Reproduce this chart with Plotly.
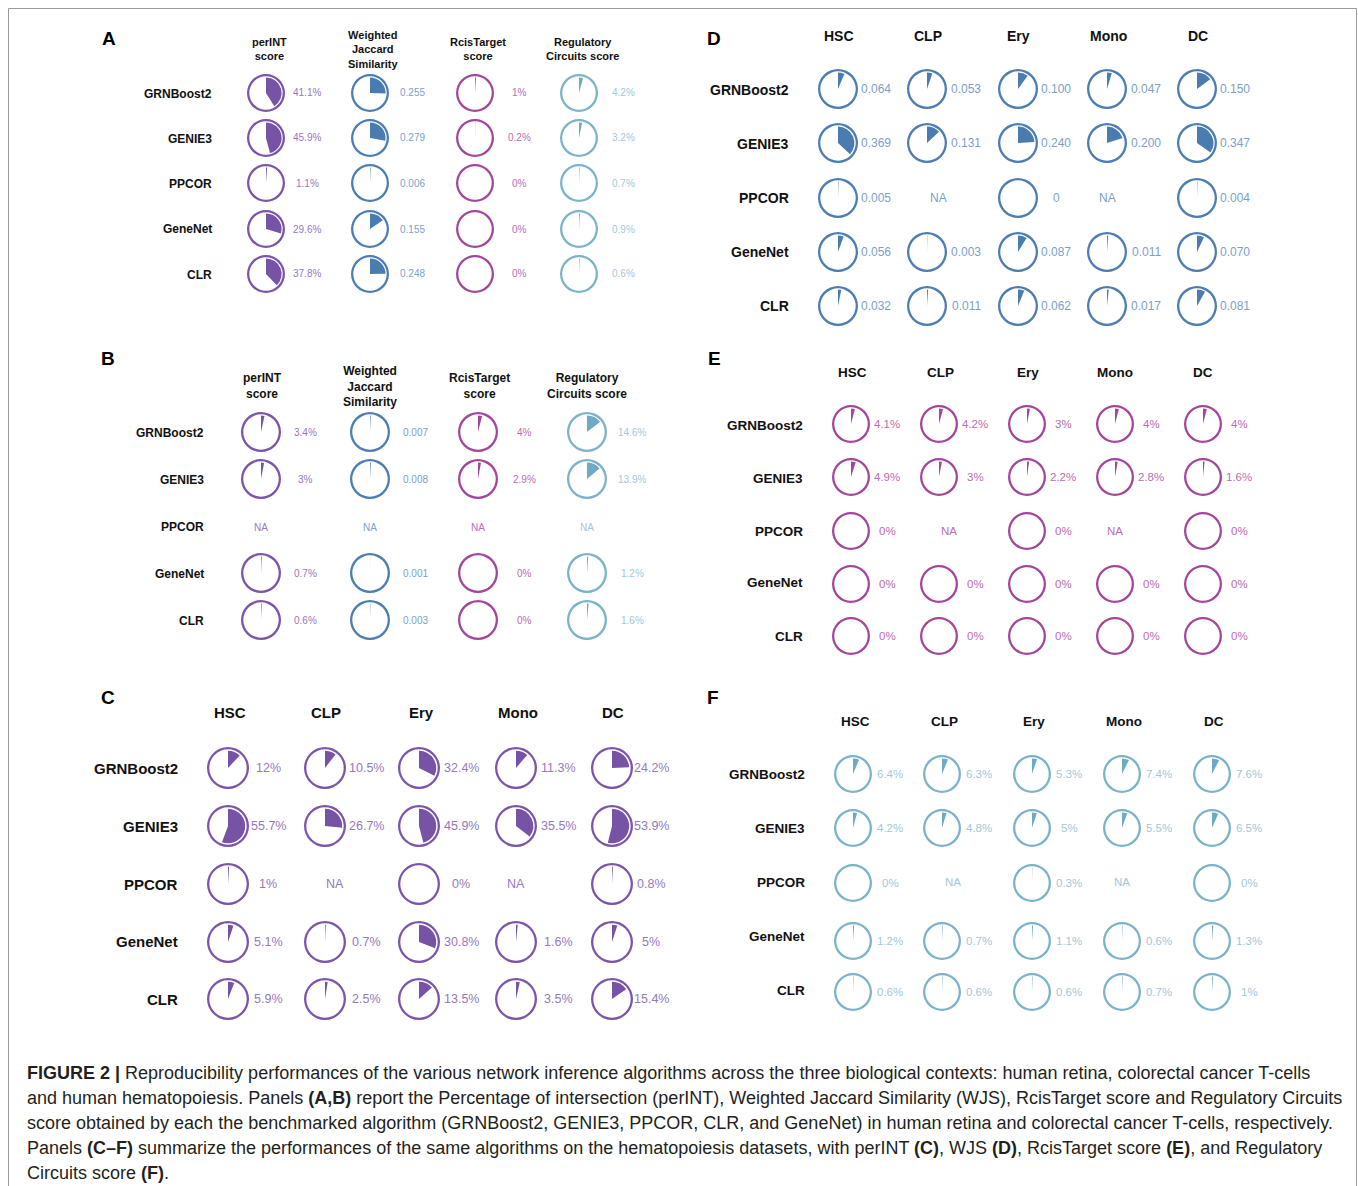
import plotly.graph_objects as go

W, H = 1358, 1186

# ---------------- data ----------------
methods = ["GRNBoost2", "GENIE3", "PPCOR", "GeneNet", "CLR"]
ab_metrics = ["perINT<br>score", "Weighted<br>Jaccard<br>Similarity",
              "RcisTarget<br>score", "Regulatory<br>Circuits score"]
cell_types = ["HSC", "CLP", "Ery", "Mono", "DC"]

# Panel A: human retina (rows = methods)
a_perint = [41.1, 45.9, 1.1, 29.6, 37.8]
a_wjs = [0.255, 0.279, 0.006, 0.155, 0.248]
a_rcis = [1, 0.2, 0, 0, 0]
a_regcirc = [4.2, 3.2, 0.7, 0.9, 0.6]

# Panel B: colorectal cancer T-cells (None = NA)
b_perint = [3.4, 3, None, 0.7, 0.6]
b_wjs = [0.007, 0.008, None, 0.001, 0.003]
b_rcis = [4, 2.9, None, 0, 0]
b_regcirc = [14.6, 13.9, None, 1.2, 1.6]

# Panels C-F: hematopoiesis (rows = methods, columns = cell types)
c_perint = [
    [12, 10.5, 32.4, 11.3, 24.2],
    [55.7, 26.7, 45.9, 35.5, 53.9],
    [1, None, 0, None, 0.8],
    [5.1, 0.7, 30.8, 1.6, 5],
    [5.9, 2.5, 13.5, 3.5, 15.4],
]
d_wjs = [
    [0.064, 0.053, 0.100, 0.047, 0.150],
    [0.369, 0.131, 0.240, 0.200, 0.347],
    [0.005, None, 0, None, 0.004],
    [0.056, 0.003, 0.087, 0.011, 0.070],
    [0.032, 0.011, 0.062, 0.017, 0.081],
]
e_rcis = [
    [4.1, 4.2, 3, 4, 4],
    [4.9, 3, 2.2, 2.8, 1.6],
    [0, None, 0, None, 0],
    [0, 0, 0, 0, 0],
    [0, 0, 0, 0, 0],
]
f_regcirc = [
    [6.4, 6.3, 5.3, 7.4, 7.6],
    [4.2, 4.8, 5, 5.5, 6.5],
    [0, None, 0.3, None, 0],
    [1.2, 0.7, 1.1, 0.6, 1.3],
    [0.6, 0.6, 0.6, 0.7, 1],
]

# ---------------- styles ----------------
FONT = "Liberation Sans, Arial, Helvetica, sans-serif"
STYLE = {
    "perint": dict(ring="#7b55ab", wedge="#7753a6", text="#9479c0", kind="pct"),
    "wjs": dict(ring="#4d7db2", wedge="#4b7cb0", text="#7c9fc8", kind="frac"),
    "rcis": dict(ring="#a3479b", wedge="#a3479b", text="#bb6db2", kind="pct"),
    "regcirc": dict(ring="#7cb3ca", wedge="#6eaac3", text="#a3c7d8", kind="pct"),
}


def X(px):
    return px / W


def Y(py):
    return 1 - py / H


def fmt(v, kind):
    if kind == "pct":
        return f"{v:g}%"
    return "0" if v == 0 else f"{v:.3f}"


fig = go.Figure()
ann = []


def text(x, y, s, size, color="#111", bold=False, xanchor="center"):
    ann.append(dict(x=X(x), y=Y(y), xref="paper", yref="paper", text=f"<b>{s}</b>" if bold else s,
                    showarrow=False, xanchor=xanchor, yanchor="middle",
                    font=dict(family=FONT, size=size, color=color)))


def glyph(cx, cy, r, value, kind, st):
    """Ring outline plus an inner wedge sweeping clockwise from 12 o'clock."""
    frac = value / 100 if kind == "pct" else value
    fig.add_trace(go.Pie(
        values=[1], marker=dict(colors=[st["ring"]], line=dict(width=0)),
        hole=1 - 2.3 / r, sort=False, textinfo="none", hoverinfo="skip", showlegend=False,
        domain=dict(x=[X(cx - r), X(cx + r)], y=[Y(cy + r), Y(cy - r)])))
    ri = r * 0.82
    fig.add_trace(go.Pie(
        values=[frac, 1 - frac], marker=dict(colors=[st["wedge"], "rgba(0,0,0,0)"], line=dict(width=0)),
        sort=False, direction="clockwise", rotation=0, textinfo="none", hoverinfo="skip",
        showlegend=False,
        domain=dict(x=[X(cx - ri), X(cx + ri)], y=[Y(cy + ri), Y(cy - ri)])))


def panel(letter, geo, headers, grid, styles, fs):
    lx, ly = geo["letter"]
    text(lx, ly, letter, 19, "#000", True)
    for hx, h in zip(geo["head_x"], headers):
        text(hx, geo["head_y"], h, fs["head"], "#111", True)
    for ry, m in zip(geo["label_y"], methods):
        text(geo["label_x"], ry, m, fs["label"], "#111", True, xanchor="right")
    for i, cy in enumerate(geo["rows_y"]):
        for j, cx in enumerate(geo["cols_x"]):
            st = styles[j]
            v = grid[i][j]
            if v is None:
                text(cx + geo["na_dx"][j], geo["label_y"][i], "NA", fs["val"], st["text"])
                continue
            glyph(cx, cy, geo["r"], v, st["kind"], st)
            text(geo["val_x"][j], cy, fmt(v, st["kind"]), fs["val"], st["text"])


# Panels A and B: metrics as columns
ab_styles = [STYLE["perint"], STYLE["wjs"], STYLE["rcis"], STYLE["regcirc"]]
grid_a = [list(t) for t in zip(a_perint, a_wjs, a_rcis, a_regcirc)]
grid_b = [list(t) for t in zip(b_perint, b_wjs, b_rcis, b_regcirc)]

panel("A", dict(letter=(109, 39), head_x=[269, 373, 478, 582], head_y=49,
                label_x=214, label_y=[94, 139, 184, 229, 275],
                rows_y=[93, 138, 183, 229, 274], cols_x=[266, 370, 475, 579],
                r=19, val_x=[307, 413, 519, 623], na_dx=[0, 0, 0, 0]),
      ab_metrics, grid_a, ab_styles, dict(head=11, label=12, val=10))

panel("B", dict(letter=(108, 358), head_x=[262, 370, 479, 587], head_y=386,
                label_x=206, label_y=[433, 480, 527, 574, 621],
                rows_y=[432, 479, 527, 573, 620], cols_x=[261, 370, 478, 587],
                r=20, val_x=[305, 415, 524, 632], na_dx=[0, 0, 0, 0]),
      ab_metrics, grid_b, ab_styles, dict(head=12, label=12, val=10))

# Panels C-F: cell types as columns
panel("C", dict(letter=(108, 697), head_x=[230, 326, 421, 518, 613], head_y=712,
                label_x=180, label_y=[769, 826, 884, 941, 999],
                rows_y=[768, 826, 884, 942, 999], cols_x=[228, 325, 419, 516, 612],
                r=21, val_x=[268, 366, 461, 558, 651], na_dx=[0, 10, 0, 0, 0]),
      cell_types, c_perint, [STYLE["perint"]] * 5, dict(head=15, label=15, val=12.5))

panel("D", dict(letter=(714, 39), head_x=[839, 928, 1018, 1108, 1198], head_y=36,
                label_x=791, label_y=[90, 144, 198, 252, 306],
                rows_y=[89, 143, 198, 252, 306], cols_x=[838, 927, 1018, 1107, 1197],
                r=20, val_x=[876, 966, 1056, 1146, 1235], na_dx=[0, 11, 0, 0, 0]),
      cell_types, d_wjs, [STYLE["wjs"]] * 5, dict(head=14, label=14, val=12))

panel("E", dict(letter=(714, 358), head_x=[852, 940, 1028, 1115, 1203], head_y=372,
                label_x=805, label_y=[425, 478, 531, 583, 636],
                rows_y=[424, 477, 531, 584, 636], cols_x=[851, 939, 1027, 1115, 1203],
                r=19, val_x=[887, 975, 1063, 1151, 1239], na_dx=[0, 10, 0, 0, 0]),
      cell_types, e_rcis, [STYLE["rcis"]] * 5, dict(head=13.5, label=13.5, val=11.5))

panel("F", dict(letter=(713, 697), head_x=[855, 944, 1034, 1124, 1214], head_y=721,
                label_x=807, label_y=[774, 828, 882, 936, 990],
                rows_y=[774, 828, 883, 941, 992], cols_x=[853, 942, 1032, 1122, 1212],
                r=19, val_x=[890, 979, 1069, 1159, 1249], na_dx=[0, 11, 0, 0, 0]),
      cell_types, f_regcirc, [STYLE["regcirc"]] * 5, dict(head=13.5, label=13.5, val=11.5))

# ---------------- caption ----------------
caption_lines = [
    "<b>FIGURE 2 |</b> Reproducibility performances of the various network inference algorithms across the three biological contexts: human retina, colorectal cancer T-cells",
    "and human hematopoiesis. Panels <b>(A,B)</b> report the Percentage of intersection (perINT), Weighted Jaccard Similarity (WJS), RcisTarget score and Regulatory Circuits",
    "score obtained by each the benchmarked algorithm (GRNBoost2, GENIE3, PPCOR, CLR, and GeneNet) in human retina and colorectal cancer T-cells, respectively.",
    "Panels <b>(C\u2013F)</b> summarize the performances of the same algorithms on the hematopoiesis datasets, with perINT <b>(C)</b>, WJS <b>(D)</b>, RcisTarget score <b>(E)</b>, and Regulatory",
    "Circuits score <b>(F)</b>.",
]
for k, line in enumerate(caption_lines):
    ann.append(dict(x=X(25), y=Y(1073 + 25 * k), xref="paper", yref="paper", text=line,
                    showarrow=False, xanchor="left", yanchor="middle",
                    font=dict(family="Liberation Sans Narrow, Arial Narrow, " + FONT, size=18,
                              color="#231f20")))

fig.update_layout(
    width=W, height=H, margin=dict(l=0, r=0, t=0, b=0),
    paper_bgcolor="white", plot_bgcolor="white", showlegend=False,
    annotations=ann,
    shapes=[dict(type="rect", xref="paper", yref="paper", x0=X(8.5), x1=X(1356.5), y0=Y(1200), y1=Y(8.5),
                 line=dict(color="#9a9a9a", width=1), fillcolor="rgba(0,0,0,0)")],
)

fig.write_html("out.html")
